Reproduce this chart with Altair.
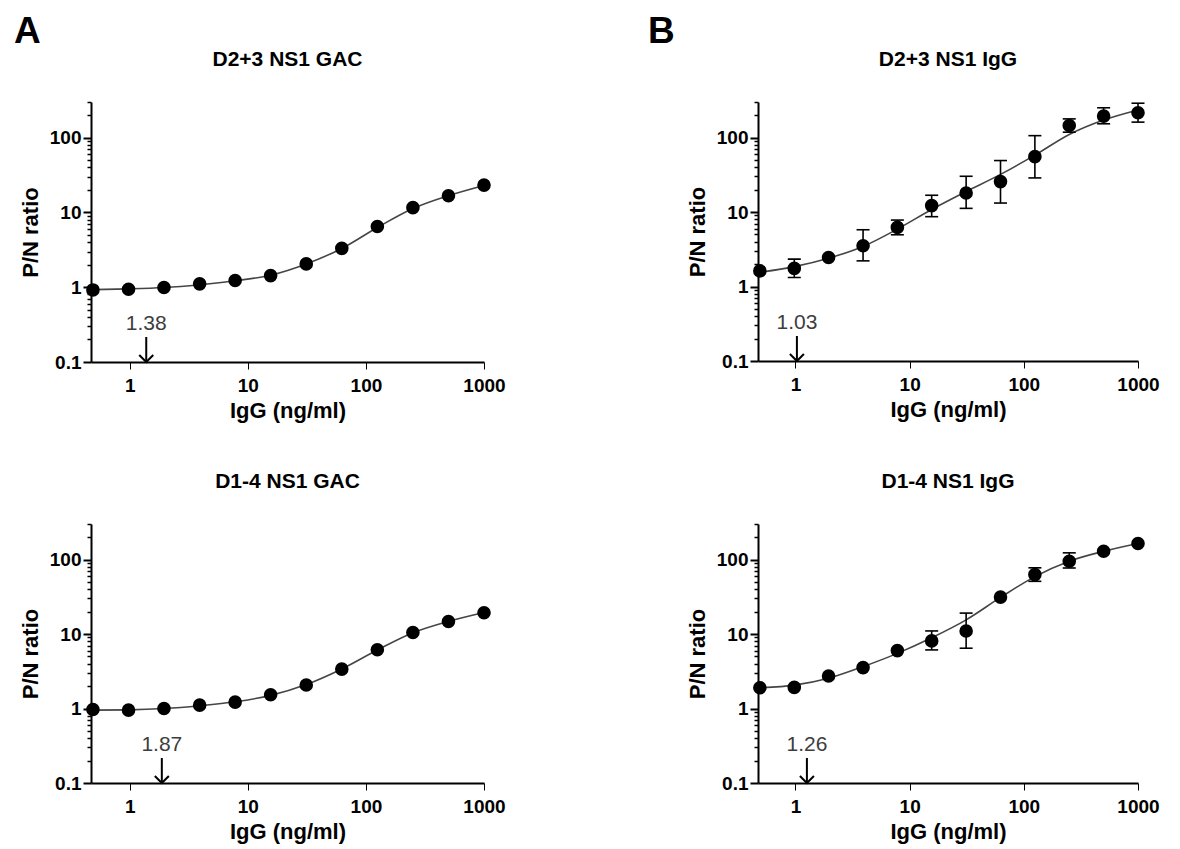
import altair as alt
import pandas as pd

FONT = "Liberation Sans"

# serial dilutions of IgG (ng/ml)
conc = [0.488, 0.977, 1.95, 3.91, 7.81, 15.6, 31.25, 62.5, 125, 250, 500, 1000]

# Panel A top: D2+3 NS1 GAC
gac23_mean = [0.92, 0.94, 0.99, 1.11, 1.23, 1.43, 2.05, 3.31, 6.5, 11.6, 16.7, 23.2]
gac23_fit = [0.93, 0.95, 0.99, 1.08, 1.22, 1.45, 2.05, 3.3, 6.3, 11.3, 16.8, 23.0]
gac23_lod = 1.38

# Panel B top: D2+3 NS1 IgG
igg23_mean = [1.62, 1.75, 2.45, 3.52, 6.22, 12.2, 18.0, 25.6, 55.4, 145, 194, 215]
igg23_low = [None, 1.32, None, 2.21, 4.95, 8.66, 11.2, 13.2, 28.7, 118, 153, 161]
igg23_high = [None, 2.33, None, 5.78, 7.8, 16.8, 30.2, 49.1, 106, 178, 251, 289]
igg23_fit = [1.55, 1.85, 2.4, 3.45, 5.9, 10.8, 18.8, 32, 58, 110, 172, 235]
igg23_lod = 1.03

# Panel A bottom: D1-4 NS1 GAC
gac14_mean = [0.97, 0.95, 1.0, 1.11, 1.22, 1.53, 2.07, 3.38, 6.15, 10.5, 14.7, 19.3]
gac14_fit = [0.95, 0.96, 1.0, 1.09, 1.23, 1.5, 2.1, 3.4, 6.1, 10.4, 14.8, 19.5]
gac14_lod = 1.87

# Panel B bottom: D1-4 NS1 IgG
igg14_mean = [1.90, 1.92, 2.73, 3.54, 5.99, 8.08, 11.0, 31.3, 62.8, 95, 129, 164]
igg14_low = [None, None, None, None, None, 6.12, 6.45, None, 51, 77, None, None]
igg14_high = [None, None, None, None, None, 11.0, 19.1, None, 77.4, 123, None, None]
igg14_fit = [1.9, 2.06, 2.55, 3.65, 5.5, 8.9, 15.5, 31, 59, 95, 129, 164]
igg14_lod = 1.26

panel_titles = ["D2+3 NS1 GAC", "D2+3 NS1 IgG", "D1-4 NS1 GAC", "D1-4 NS1 IgG"]
panel_letters = ["A", "B"]
x_ticks = [1, 10, 100, 1000]
y_major = [0.1, 1, 10, 100]
y_minor = [0.2, 0.3, 0.4, 0.5, 0.6, 0.7, 0.8, 0.9,
           2, 3, 4, 5, 6, 7, 8, 9,
           20, 30, 40, 50, 60, 70, 80, 90, 200, 300]

MAJOR_TEST = "indexof([0.1, 1, 10, 100], datum.value) >= 0"


def panel(title, mean, fit, lod, low, high, width, height, letter=None, letter_dx=0):
    x_scale = alt.Scale(type="log", domain=[0.47, 1000], nice=False)
    y_scale = alt.Scale(type="log", domain=[0.1, 300], nice=False)
    x_axis = alt.Axis(values=x_ticks, format="~g", labelFlush=False, labelOverlap=False,
                      tickSize=7, labelPadding=7, titlePadding=5)
    y_axis = alt.Axis(values=sorted(y_major + y_minor), format="~g",
                      labelExpr=MAJOR_TEST + " ? datum.label : ''",
                      labelOverlap=False, labelFlush=False, labelPadding=2, titlePadding=7,
                      tickSize={"condition": {"test": MAJOR_TEST, "value": 8}, "value": 4},
                      tickWidth={"condition": {"test": MAJOR_TEST, "value": 2}, "value": 1.5})
    X = alt.X("conc:Q", scale=x_scale, axis=x_axis, title="IgG (ng/ml)")

    def Y(f):
        return alt.Y(f + ":Q", scale=y_scale, axis=y_axis, title="P/N ratio")

    df = pd.DataFrame({"conc": conc, "mean": mean, "fit": fit})
    layers = [
        alt.Chart(df).mark_line(color="#454545", strokeWidth=1.6, interpolate="monotone")
        .encode(x=X, y=Y("fit"))
    ]
    if low is not None:
        edf = pd.DataFrame({"conc": conc, "low": low, "high": high}).dropna()
        layers.append(alt.Chart(edf).mark_rule(color="black", strokeWidth=1.6)
                      .encode(x=X, y=Y("low"), y2="high:Q"))
        layers.append(alt.Chart(edf).mark_tick(orient="horizontal", size=13, thickness=1.6,
                                               color="black", opacity=1)
                      .encode(x=X, y=Y("low")))
        layers.append(alt.Chart(edf).mark_tick(orient="horizontal", size=13, thickness=1.6,
                                               color="black", opacity=1)
                      .encode(x=X, y=Y("high")))
    layers.append(alt.Chart(df).mark_circle(size=185, color="black", opacity=1)
                  .encode(x=X, y=Y("mean")))

    lod_df = pd.DataFrame({"conc": [lod], "label": [f"{lod:.2f}"]})
    layers.append(alt.Chart(lod_df).mark_rule(color="black", strokeWidth=2)
                  .encode(x=X, y=alt.value(height - 25), y2=alt.value(height)))
    layers.append(alt.Chart(lod_df).mark_point(shape="M-1,-1L0,0L1,-1", filled=False, size=196,
                                               strokeWidth=2, color="black", opacity=1)
                  .encode(x=X, y=alt.value(height)))
    layers.append(alt.Chart(lod_df).mark_text(fontSize=21, font=FONT, color="#3d3d3d",
                                              baseline="alphabetic", align="center")
                  .encode(x=X, y=alt.value(height - 32), text="label:N"))
    layers.append(alt.Chart(pd.DataFrame({"t": [title]}))
                  .mark_text(fontSize=21, font=FONT, fontWeight="bold", color="black",
                             baseline="alphabetic", align="center")
                  .encode(x=alt.value(width / 2), y=alt.value(-36), text="t:N"))
    if letter is not None:
        layers.append(alt.Chart(pd.DataFrame({"t": [letter]}))
                      .mark_text(fontSize=37, font=FONT, fontWeight="bold", color="black",
                                 baseline="alphabetic", align="left")
                      .encode(x=alt.value(letter_dx), y=alt.value(-59), text="t:N"))
    return alt.layer(*layers).properties(width=width, height=height)


a1 = panel(panel_titles[0], gac23_mean, gac23_fit, gac23_lod, None, None, 393, 260,
           panel_letters[0], -77)
b1 = panel(panel_titles[1], igg23_mean, igg23_fit, igg23_lod, igg23_low, igg23_high, 380, 259,
           panel_letters[1], -110)
a2 = panel(panel_titles[2], gac14_mean, gac14_fit, gac14_lod, None, None, 393, 259)
b2 = panel(panel_titles[3], igg14_mean, igg14_fit, igg14_lod, igg14_low, igg14_high, 380, 259)

chart = alt.concat(
    a1, b1, a2, b2,
    columns=2,
    spacing={"row": 162, "column": 274},
    bounds="flush",
).properties(
    padding={"left": 5, "top": 4, "right": 5, "bottom": 5}
).configure_view(
    stroke="transparent"
).configure_axis(
    grid=False,
    domainColor="black", domainWidth=2,
    tickColor="black",
    labelFont=FONT, labelFontSize=19, labelFontWeight="bold", labelColor="black",
    titleFont=FONT, titleFontSize=22, titleFontWeight="bold", titleColor="black",
)

chart.save("out.html", embed_options={"renderer": "svg", "actions": False})
